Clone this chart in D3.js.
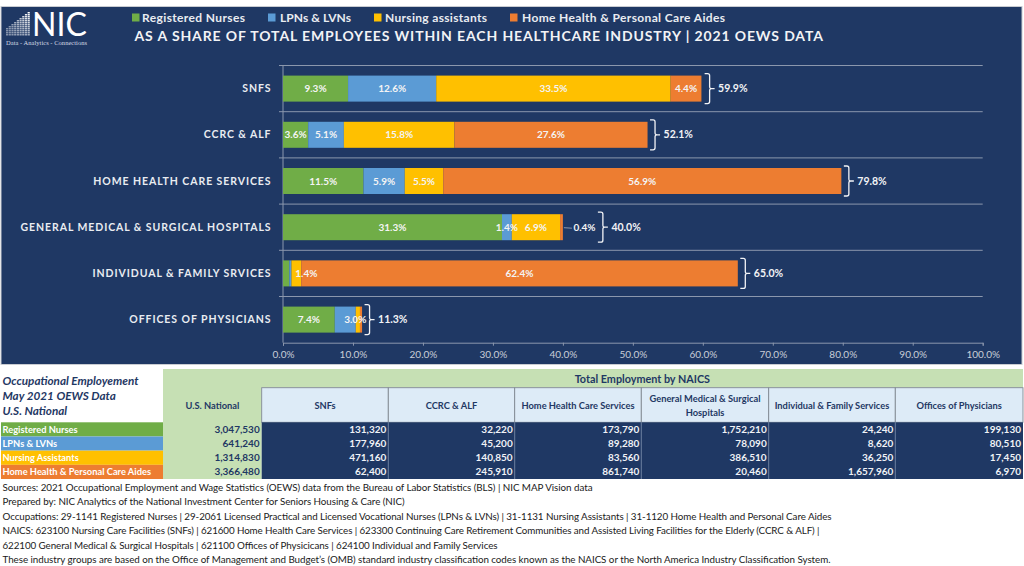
<!DOCTYPE html>
<html>
<head>
<meta charset="utf-8">
<script src="https://cdn.jsdelivr.net/npm/d3@7"></script>
<style>
  html, body { margin: 0; padding: 0; background: #fff; }
  svg { display: block; }
  text { font-family: Lato, "Open Sans", sans-serif; }
</style>
</head>
<body>
<script>
// chart data
var categories = ["SNFS", "CCRC & ALF", "HOME HEALTH CARE SERVICES", "GENERAL MEDICAL & SURGICAL HOSPITALS", "INDIVIDUAL & FAMILY SRVICES", "OFFICES OF PHYSICIANS"];
var seriesNames = ["Registered Nurses", "LPNs & LVNs", "Nursing assistants", "Home Health & Personal Care Aides"];
var registeredNurses = [9.3, 3.6, 11.5, 31.3, 0.9, 7.4];
var lpns = [12.6, 5.1, 5.9, 1.4, 0.3, 3.0];
var nursingAssistants = [33.5, 15.8, 5.5, 6.9, 1.4, 0.6];
var homeHealthAides = [4.4, 27.6, 56.9, 0.4, 62.4, 0.3];
var totals = [59.9, 52.1, 79.8, 40.0, 65.0, 11.3];
var xTicks = [0, 10, 20, 30, 40, 50, 60, 70, 80, 90, 100];

// table data
var tableHeaders = ["U.S. National", "SNFs", "CCRC & ALF", "Home Health Care Services", "General Medical & Surgical Hospitals", "Individual & Family Services", "Offices of Physicians"];
var tableRowNames = ["Registered Nurses", "LPNs & LVNs", "Nursing Assistants", "Home Health & Personal Care Aides"];
var rnRow = ["3,047,530", "131,320", "32,220", "173,790", "1,752,210", "24,240", "199,130"];
var lpnRow = ["641,240", "177,960", "45,200", "89,280", "78,090", "8,620", "80,510"];
var naRow = ["1,314,830", "471,160", "140,850", "83,560", "386,510", "36,250", "17,450"];
var hhRow = ["3,366,480", "62,400", "245,910", "861,740", "20,460", "1,657,960", "6,970"];
var sideTitle = ["Occupational Employement", "May 2021 OEWS Data", "U.S. National"];
var footnotes = [
  "Sources: 2021 Occupational Employment and Wage Statistics (OEWS) data from the Bureau of Labor Statistics (BLS) | NIC MAP Vision data",
  "Prepared by: NIC Analytics of the National Investment Center for Seniors Housing & Care (NIC)",
  "Occupations: 29-1141 Registered Nurses | 29-2061 Licensed Practical and Licensed Vocational Nurses (LPNs & LVNs) | 31-1131 Nursing Assistants | 31-1120 Home Health and Personal Care Aides",
  "NAICS: 623100 Nursing Care Facilities (SNFs) | 621600 Home Health Care Services | 623300 Continuing Care Retirement Communities and Assisted Living Facilities for the Elderly (CCRC & ALF) |",
  "622100 General Medical & Surgical Hospitals | 621100 Offices of Physicicans | 624100 Individual and Family Services",
  "These industry groups are based on the Office of Management and Budget\u2019s (OMB) standard industry classification codes known as the NAICS or the North America Industry Classification System."
];

var navy = "#1f3864", lineGrey = "#8b97ad", lightText = "#e9ecf1";
var colors = ["#70ad47", "#5b9bd5", "#ffc000", "#ed7d31"];

var svg = d3.select("body").append("svg").attr("width", 1024).attr("height", 566);

// panel
svg.append("rect").attr("x", 1).attr("y", 6.5).attr("width", 1021).attr("height", 358)
  .attr("fill", navy).attr("stroke", "#c9ccd2").attr("stroke-width", 1);

// logo, building made of little windows
var logo = svg.append("g");
for (var i = 0; i < 9; i++) {
  var roofY = 12 + (8 - i) * 2;
  for (var j = roofY; j < 35; j += 2) {
    logo.append("rect").attr("x", 6 + i * 2.7).attr("y", j).attr("width", 2.2).attr("height", 1.5)
      .attr("fill", "#fff").attr("opacity", 0.45 + 0.55 * (i / 8) * (1 - (j - 12) / 30));
  }
}
logo.append("text").attr("x", 32).attr("y", 35.5).attr("fill", "#fff").attr("font-size", 32).attr("font-weight", 400)
  .attr("textLength", 55).style("font-family", "Lato").text("NIC");
logo.append("text").attr("x", 6).attr("y", 44.5).attr("fill", "#d5dae4").attr("font-size", 6.5)
  .attr("textLength", 81).style("font-family", "Liberation Serif").text("Data - Analytics - Connections");

// legend
var legendX = [132, 268, 374, 510], legendTextX = [142, 280, 385, 522], legendWidths = [103, 71, 102, 203];
var legend = svg.append("g").selectAll("g").data(seriesNames).enter().append("g");
legend.append("rect").attr("x", function(d, i) { return legendX[i]; }).attr("y", 13.5).attr("width", 7.5).attr("height", 8)
  .attr("fill", function(d, i) { return colors[i]; });
legend.append("text").attr("x", function(d, i) { return legendTextX[i]; }).attr("y", 22)
  .attr("fill", lightText).attr("font-size", 12).attr("font-weight", 700)
  .attr("textLength", function(d, i) { return legendWidths[i]; }).text(function(d) { return d; });

svg.append("text").attr("x", 134.5).attr("y", 40.5).attr("fill", "#f2f3f6").attr("font-size", 14).attr("font-weight", 700)
  .attr("textLength", 688.5).text("AS A SHARE OF TOTAL EMPLOYEES WITHIN EACH HEALTHCARE INDUSTRY | 2021 OEWS DATA");

// scales
var x = d3.scaleLinear().domain([0, 100]).range([283, 982.7]);
var y = d3.scaleBand().domain(categories).range([65.5, 342.7]).paddingInner(0.437).paddingOuter(0.2185);

var rows = categories.map(function(c, i) {
  return { cat: c, a: registeredNurses[i], b: lpns[i], c: nursingAssistants[i], d: homeHealthAides[i], total: totals[i], index: i };
});
var stack = d3.stack().keys(["a", "b", "c", "d"]);
var layers = stack(rows);

// row separators
svg.append("g").selectAll("line").data(categories).enter().append("line")
  .attr("x1", 279).attr("x2", x(100))
  .attr("y1", function(d) { return y(d) - (y.step() - y.bandwidth()) / 2; })
  .attr("y2", function(d) { return y(d) - (y.step() - y.bandwidth()) / 2; })
  .attr("stroke", lineGrey).attr("stroke-width", 1);

// bottom axis
var axis = svg.append("g").attr("transform", "translate(0,342.7)")
  .call(d3.axisBottom(x).tickValues(xTicks).tickSize(3).tickFormat(function(d) { return d.toFixed(1) + "%"; }));
axis.selectAll("path, line").attr("stroke", lineGrey);
axis.selectAll("text").attr("fill", "#c9ced8").attr("font-size", 10).attr("dy", "0.9em").style("font-family", "Lato");

// left axis line
svg.append("line").attr("x1", x(0)).attr("x2", x(0)).attr("y1", 65.5).attr("y2", 342.7).attr("stroke", lineGrey);

// category labels
svg.append("g").selectAll("text").data(categories).enter().append("text")
  .attr("x", 271.5).attr("y", function(d) { return y(d) + y.bandwidth() / 2 + 3.5; })
  .attr("text-anchor", "end").attr("fill", lightText).attr("font-size", 10.5).attr("font-weight", 700)
  .attr("letter-spacing", 0.93).text(function(d) { return d; });

// bars
var layer = svg.append("g").selectAll("g").data(layers).enter().append("g")
  .attr("fill", function(d, i) { return colors[i]; });
layer.selectAll("rect").data(function(d) { return d; }).enter().append("rect")
  .attr("x", function(d) { return x(d[0]); })
  .attr("y", function(d) { return y(d.data.cat); })
  .attr("width", function(d) { return x(d[1]) - x(d[0]); })
  .attr("height", y.bandwidth());

// value labels, the tiny segments in the original have none
var labels = [];
layers.forEach(function(l) {
  l.forEach(function(d) {
    var v = d[1] - d[0];
    if (v >= 1 || (l.key == "d" && d.data.cat == categories[3])) {
      labels.push({ v: d.data[l.key], mid: (d[0] + d[1]) / 2, cat: d.data.cat, key: l.key });
    }
  });
});
// nudged by hand where the bar is too thin
function nudge(d) {
  if (d.key == "c" && d.cat == categories[4]) return 10;
  if (d.key == "b" && d.cat == categories[5]) return 10;
  if (d.key == "d" && d.cat == categories[3]) return 23;
  return 0;
}
svg.append("g").selectAll("text").data(labels).enter().append("text")
  .attr("x", function(d) { return x(d.mid) + nudge(d); })
  .attr("y", function(d) { return y(d.cat) + y.bandwidth() / 2 + 3.5; })
  .attr("text-anchor", "middle").attr("fill", "#f4f4f4").attr("font-size", 10).attr("font-weight", 700)
  .text(function(d) { return d.v.toFixed(1) + "%"; });

// leader for the 0.4% label
svg.append("line").attr("x1", x(totals[3]) + 1).attr("x2", x(totals[3]) + 9)
  .attr("y1", y(categories[3]) + y.bandwidth() / 2 + 0.5).attr("y2", y(categories[3]) + y.bandwidth() / 2 + 1)
  .attr("stroke", lineGrey);

// brackets and totals
function braceOffset(d) { return d.index == 3 ? 35 : 2.5; }
var brace = svg.append("g").selectAll("g").data(rows).enter().append("g")
  .attr("transform", function(d) { return "translate(" + (x(d.total) + braceOffset(d)) + "," + (y(d.cat) + y.bandwidth() / 2) + ")"; });
brace.append("path")
  .attr("d", "M0,-15 H3 Q5,-15 5,-13 V-2 Q5,0 7,0 H10 M7,0 Q5,0 5,2 V13 Q5,15 3,15 H0")
  .attr("fill", "none").attr("stroke", "#f2f3f6").attr("stroke-width", 1.3);
brace.append("text").attr("x", 13.5).attr("y", 3.5).attr("fill", "#f2f3f6").attr("font-size", 10.5).attr("font-weight", 700)
  .text(function(d) { return d.total.toFixed(1) + "%"; });

// table
var colX = [163, 261.7, 388.3, 514.7, 641.3, 768.7, 895.3, 1023];
var tableRows = [rnRow, lpnRow, naRow, hhRow];
var rowY = d3.scaleBand().domain(d3.range(4)).range([422.3, 479]);
var tableGreen = "#c6e0b4", tableInk = "#1f3864";

svg.append("rect").attr("x", colX[0]).attr("y", 369).attr("width", colX[7] - colX[0]).attr("height", 18.7).attr("fill", tableGreen);
svg.append("rect").attr("x", colX[0]).attr("y", 387).attr("width", colX[1] - colX[0]).attr("height", 92).attr("fill", tableGreen);
svg.append("text").attr("x", (colX[1] + colX[7]) / 2).attr("y", 382.5).attr("text-anchor", "middle")
  .attr("fill", tableInk).attr("font-size", 10.8).attr("font-weight", 700).text("Total Employment by NAICS");

svg.append("g").selectAll("text").data(sideTitle).enter().append("text")
  .attr("x", 2.5).attr("y", function(d, i) { return 384.8 + i * 15.2; })
  .attr("fill", tableInk).attr("font-size", 11.7).attr("font-weight", 700).attr("font-style", "italic")
  .text(function(d) { return d; });

// side row labels
svg.append("g").selectAll("rect").data(tableRowNames).enter().append("rect")
  .attr("x", 1).attr("width", colX[0] - 1).attr("y", function(d, i) { return rowY(i); }).attr("height", rowY.bandwidth())
  .attr("fill", function(d, i) { return colors[i]; });
svg.append("g").selectAll("text").data(tableRowNames).enter().append("text")
  .attr("x", 2.5).attr("y", function(d, i) { return rowY(i) + 10.5; })
  .attr("fill", "#fff").attr("font-size", 9.3).attr("font-weight", 700).text(function(d) { return d; });

// header cells
var headCells = svg.append("g").selectAll("g").data(tableHeaders).enter().append("g");
headCells.filter(function(d, i) { return i > 0; }).append("rect")
  .attr("x", function(d, i) { return colX[i + 1]; }).attr("width", function(d, i) { return colX[i + 2] - colX[i + 1]; })
  .attr("y", 387.7).attr("height", 34.6).attr("fill", "#ddebf7").attr("stroke", "#7f8791").attr("stroke-width", 0.9);
headCells.each(function(d, i) {
  var cx = (colX[i] + colX[i + 1]) / 2;
  var words = d == tableHeaders[4] ? ["General Medical & Surgical", "Hospitals"] : [d];
  var g = d3.select(this);
  words.forEach(function(w, k) {
    g.append("text").attr("x", cx).attr("y", 408.5 + (k - (words.length - 1) / 2) * 14)
      .attr("text-anchor", "middle").attr("fill", tableInk).attr("font-size", 9.3).attr("font-weight", 700).text(w);
  });
});

// number cells
svg.append("rect").attr("x", colX[1]).attr("y", 422.3).attr("width", colX[7] - colX[1]).attr("height", 56.7).attr("fill", navy);
svg.append("g").selectAll("line").data(colX.slice(2, 7)).enter().append("line")
  .attr("x1", function(d) { return d; }).attr("x2", function(d) { return d; }).attr("y1", 422.3).attr("y2", 479)
  .attr("stroke", "#9fb0c9").attr("stroke-width", 0.6);
tableRows.forEach(function(row, r) {
  svg.append("g").selectAll("text").data(row).enter().append("text")
    .attr("x", function(d, i) { return colX[i + 1] - 2; })
    .attr("y", rowY(r) + 10.5)
    .attr("text-anchor", "end").attr("font-size", 10).attr("font-weight", 700)
    .attr("fill", function(d, i) { return i == 0 ? tableInk : "#f0f2f6"; })
    .text(function(d) { return d; });
});

// footnotes
var footWidths = [590, 402, 829, 817, 495, 828];
svg.append("g").selectAll("text").data(footnotes).enter().append("text")
  .attr("x", 2.5).attr("y", function(d, i) { return 490.8 + i * 14.5; })
  .attr("fill", "#1a1a1a").attr("font-size", 9.8)
  .attr("textLength", function(d, i) { return footWidths[i]; })
  .text(function(d) { return d; });
</script>
</body>
</html>
